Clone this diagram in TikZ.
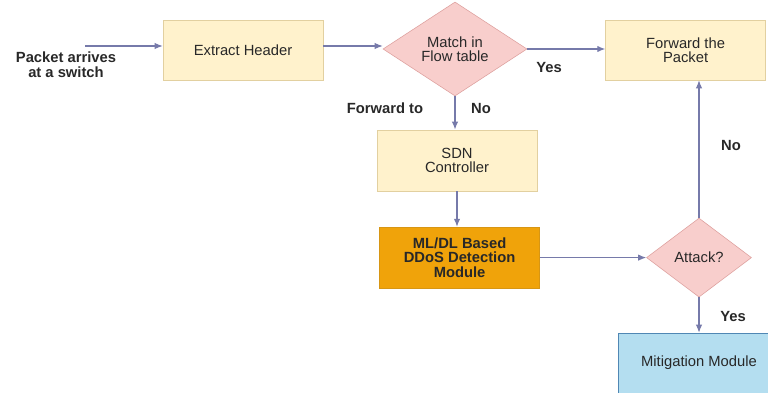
\documentclass[tikz,border=0pt]{standalone}
\usepackage{fontspec}
\setmainfont{Liberation Sans}
\usetikzlibrary{shapes.geometric,arrows.meta}

\definecolor{boxfill}{RGB}{255,242,204}
\definecolor{boxline}{RGB}{226,208,160}
\definecolor{decfill}{RGB}{248,206,204}
\definecolor{decline}{RGB}{222,160,158}
\definecolor{detfill}{RGB}{240,163,10}
\definecolor{detline}{RGB}{215,150,20}
\definecolor{mitfill}{RGB}{180,222,240}
\definecolor{mitline}{RGB}{80,135,180}
\definecolor{flow}{RGB}{118,122,170}
\definecolor{ink}{RGB}{40,40,40}

\tikzset{
  stepbox/.style={draw=boxline, fill=boxfill, minimum width=4cm, minimum height=1.5cm,
    align=center, text=ink, font=\fontsize{10.5}{10.2}\selectfont},
  decision/.style={diamond, draw=decline, fill=decfill, aspect=1.5, inner sep=0pt,
    align=center, text=ink, font=\fontsize{10.5}{10.2}\selectfont},
  lbl/.style={text=ink, align=center, font=\bfseries\fontsize{10.5}{10.2}\selectfont},
  link/.style={draw=flow, thick, -{Latex[length=2mm,width=1.6mm]}}
}

\begin{document}
\begin{tikzpicture}

\useasboundingbox (0,0) rectangle (19.2,-9.825);

\node [lbl] (arrive) at (1.65,-1.62) {Packet arrives\\at a switch};
\coordinate (start) at (2.125,-1.15);

\node [stepbox] (header) at (6.075,-1.25) {Extract Header};
\node [decision, minimum width=3.6cm, minimum height=2.35cm] (match) at (11.375,-1.225) {Match in\\Flow table};
\node [stepbox] (fwd) at (17.14,-1.25) {Forward the\\Packet};
\node [stepbox, minimum height=1.525cm] (sdn) at (11.425,-4.01) {SDN\\Controller};
\node [stepbox, minimum height=1.525cm, draw=detline, fill=detfill, font=\bfseries\fontsize{10.5}{10.2}\selectfont] (detect) at (11.49,-6.44) {ML/DL Based\\DDoS Detection\\Module};
\node [decision, minimum width=2.625cm, minimum height=1.975cm] (attack) at (17.475,-6.44) {Attack?};
\node [stepbox, draw=mitline, fill=mitfill, minimum width=4.05cm] (mitig) at (17.475,-9.075) {Mitigation Module};

\node [lbl] (yes1) at (13.725,-1.675) {Yes};
\node [lbl] (fwdto) at (9.625,-2.7) {Forward to};
\node [lbl] (no1) at (12.025,-2.7) {No};
\node [lbl] (no2) at (18.275,-3.625) {No};
\node [lbl] (yes2) at (18.325,-7.9) {Yes};

\draw [link] (start) -- (header.west |- start);
\draw [link] (header.east |- start) -- (match.west |- start);
\draw [link] (match.east) -- (match.east -| fwd.west);
\draw [link] (match.south) -- (match.south |- sdn.north);
\draw [link] (sdn.south) -- (sdn.south |- detect.north);
\draw [link] (detect.east) -- (attack.west);
\draw [link] (attack.north) -- (attack.north |- fwd.south);
\draw [link] (attack.south) -- (mitig.north);
\end{tikzpicture}
\end{document}
